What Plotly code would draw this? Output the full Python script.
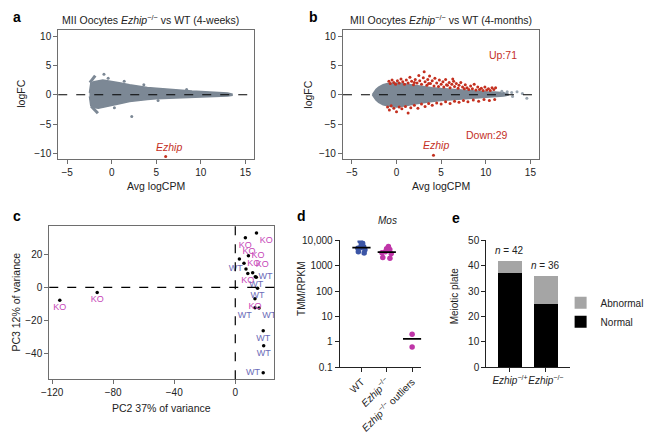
import numpy as np
import plotly.graph_objects as go

FONT = "Liberation Sans, Arial, sans-serif"
W, H = 649, 434

# ---------------- Panel a : MA plot, 4 weeks (gene cloud envelope) ----------------
a_env_x = [-2.5, -2.35, -2.0, -1.5, -1.0, -0.5, 0.0, 1.0, 2.0, 3.0, 4.0, 5.0, 6.0, 7.0, 8.0, 9.0, 10.0, 11.0, 12.0, 13.0, 13.5]
a_env_upper = [0.3, 1.9, 2.2, 2.4, 2.5, 2.4, 2.3, 2.0, 1.7, 1.45, 1.25, 1.1, 0.95, 0.82, 0.72, 0.62, 0.55, 0.47, 0.4, 0.3, 0.1]
a_env_lower = [-0.3, -1.9, -2.2, -2.3, -2.2, -2.0, -1.8, -1.5, -1.15, -0.95, -0.8, -0.7, -0.6, -0.55, -0.5, -0.43, -0.37, -0.3, -0.25, -0.2, -0.1]
a_streak_up_x = [-2.45, -1.85]
a_streak_up_y = [2.05, 3.25]
a_streak_dn_x = [-2.3, -1.55]
a_streak_dn_y = [-1.95, -3.15]
a_extra_x = [-0.87, 2.25, 1.4, 3.6, 0.3, 5.2, 8.4, -0.4]
a_extra_y = [3.5, -3.7, 2.3, 1.7, -2.2, -1.0, 0.9, 2.8]
a_ezhip_x = [6.05]
a_ezhip_y = [-10.55]

# ---------------- Panel b : MA plot, 4 months ----------------
b_env_x = [-2.7, -2.3, -2.0, -1.5, -1.0, -0.5, 0.0, 1.0, 2.0, 3.0, 4.0, 5.0, 6.0, 7.0, 8.0, 9.0, 10.0, 11.0, 12.0, 12.5]
b_env_upper = [0.0, 0.9, 1.3, 1.7, 1.9, 2.0, 2.0, 1.85, 1.6, 1.4, 1.2, 1.05, 0.92, 0.8, 0.7, 0.6, 0.52, 0.45, 0.35, 0.1]
b_env_lower = [0.0, -0.9, -1.3, -1.7, -1.9, -2.05, -2.1, -1.9, -1.6, -1.35, -1.15, -1.0, -0.85, -0.72, -0.6, -0.5, -0.4, -0.3, -0.2, -0.05]
b_up_x = [-0.85, -0.7, -0.5, -0.3, -0.1, 0.1, 0.3, 0.5, 0.7, 0.9, 1.1, 1.3, 1.5, 1.7, 1.9, 2.1, 2.3, 2.5,
          2.6, 2.8, 3.0, 3.1, 3.2, 3.4, 3.5, 3.7, 3.8, 4.0, 4.2, 4.3, 4.5, 4.7, 4.8, 5.0, 5.2, 5.3, 5.5,
          5.7, 5.9, 6.0, 6.2, 6.4, 6.5, 6.7, 6.9, 7.0, 7.2, 7.4, 7.6, 7.7, 7.9, 8.1, 8.3, 8.5, 8.7, 8.9,
          9.1, 9.3, 9.5, 9.7, 9.9, 10.1, 10.3, 10.5, 10.7, 10.9, 11.1, 2.0, 5.6, 6.3, 3.6]
b_up_y = [2.3, 1.9, 2.5, 2.1, 1.8, 2.4, 2.0, 2.7, 2.2, 1.8, 2.5, 2.0, 3.0, 2.3, 1.7, 2.6, 2.0, 3.3,
          2.4, 1.8, 2.9, 3.9, 2.2, 1.6, 2.6, 3.2, 1.9, 2.4, 1.5, 2.8, 2.0, 1.4, 2.5, 1.8, 2.2, 1.3, 2.6,
          1.6, 2.1, 1.2, 1.8, 2.3, 1.4, 1.9, 1.1, 1.6, 2.1, 1.3, 1.0, 1.7, 1.2, 0.9, 1.5, 1.0, 1.8, 0.8,
          1.3, 0.9, 1.1, 0.7, 1.3, 0.8, 1.0, 0.7, 1.2, 0.9, 1.2, 2.1, 1.7, 2.7, 1.9]
b_down_x = [-1.0, -0.8, -0.6, -0.3, 0.0, 0.3, 0.6, 1.0, 1.3, 1.6, 2.0, 2.4, 2.8, 3.2, 3.6, 4.0, 4.5,
            5.0, 5.5, 6.0, 6.5, 7.0, 7.5, 8.0, 8.6, 9.2, 9.8, 10.4, 11.0]
b_down_y = [-2.1, -2.6, -1.9, -2.3, -2.9, -2.1, -2.4, -2.0, -3.1, -2.2, -1.8, -2.3, -1.6, -2.0, -1.5,
            -1.8, -1.4, -1.6, -1.2, -1.5, -1.1, -1.3, -1.0, -1.2, -0.9, -1.1, -0.8, -1.0, -0.8]
b_extra_x = [12.4, 12.9, 13.5, 14.1, 14.6, 13.0, 11.8]
b_extra_y = [0.5, 0.4, 0.5, 0.2, -0.6, -0.3, 0.6]
b_ezhip_x = [4.14]
b_ezhip_y = [-10.3]

# ---------------- Panel c : PCA ----------------
pca_pc2 = [-115, -90.5, 6.6, 13.9, 2.7, 8.6, 5.7, 7.0, 8.2, 11.4, 13.1, 13.8, 14.6, 12.9, 12.9, 15.6, 18.3, 18.6, 18.3]
pca_pc3 = [-7.8, -3.1, 29.7, 32.6, 17.0, 19.0, 14.4, 11.0, 8.3, 8.7, 6.4, 6.0, -0.6, -6.8, -12.2, -12.4, -26.0, -35.0, -51.3]
pca_group = ["KO", "KO", "KO", "KO", "KO", "KO", "KO", "WT", "KO", "KO", "WT", "WT", "WT", "KO", "WT", "WT", "WT", "WT", "WT"]
pca_textpos = ["bottom center", "bottom center", "bottom center", "bottom right", "top right", "middle right",
               "middle right", "middle left", "bottom center", "top right", "middle right", "bottom center",
               "bottom center", "bottom center", "bottom left", "bottom right", "bottom center", "bottom center",
               "middle left"]

# ---------------- Panel d : Mos expression ----------------
mos_categories = ["WT", "<i>Ezhip</i><sup>−/−</sup>", "<i>Ezhip</i><sup>−/−</sup> outliers"]
mos_wt = [9200, 7800, 6500, 5600, 5200, 4900, 4300, 3600, 3200]
mos_ko = [5800, 4700, 4400, 3600, 3300, 3000, 2100, 2000]
mos_out = [2.0, 0.62]

# ---------------- Panel e : Meiotic plate ----------------
e_categories = ["<i>Ezhip</i><sup>−/+</sup>", "<i>Ezhip</i><sup>−/−</sup>"]
e_normal = [37, 25]
e_abnormal = [5, 11]

GRAY = "#7c8895"
RED = "#c4301f"
KO_COL = "#c646b8"
WT_COL = "#6b6bb8"


def dx(l, r):
    return [l / W, r / W]


def dy(t, b):
    return [1 - b / H, 1 - t / H]


fig = go.Figure()


def cloud(ex, eu, el, xa, ya):
    xs = np.concatenate([ex, ex[::-1]])
    ys = np.concatenate([eu, el[::-1]])
    fig.add_trace(go.Scatter(x=xs, y=ys, fill="toself", fillcolor=GRAY, mode="lines",
                             line=dict(color=GRAY, width=1.5), xaxis=xa, yaxis=ya,
                             showlegend=False, hoverinfo="skip"))


# Panel a
cloud(np.array(a_env_x), np.array(a_env_upper), np.array(a_env_lower), "x", "y")
for sx, sy in [(a_streak_up_x, a_streak_up_y), (a_streak_dn_x, a_streak_dn_y)]:
    fig.add_trace(go.Scatter(x=sx, y=sy, mode="lines", line=dict(color=GRAY, width=3),
                             xaxis="x", yaxis="y", showlegend=False))
fig.add_trace(go.Scatter(x=a_extra_x, y=a_extra_y, mode="markers", marker=dict(color=GRAY, size=3),
                         xaxis="x", yaxis="y", showlegend=False))
fig.add_trace(go.Scatter(x=a_ezhip_x, y=a_ezhip_y, mode="markers", marker=dict(color=RED, size=3),
                         xaxis="x", yaxis="y", showlegend=False))

# Panel b
cloud(np.array(b_env_x), np.array(b_env_upper), np.array(b_env_lower), "x2", "y2")
fig.add_trace(go.Scatter(x=b_extra_x, y=b_extra_y, mode="markers", marker=dict(color="#9aa5b0", size=3),
                         xaxis="x2", yaxis="y2", showlegend=False))
fig.add_trace(go.Scatter(x=b_up_x + b_down_x, y=b_up_y + b_down_y, mode="markers",
                         marker=dict(color=RED, size=3), xaxis="x2", yaxis="y2", showlegend=False))
fig.add_trace(go.Scatter(x=b_ezhip_x, y=b_ezhip_y, mode="markers", marker=dict(color=RED, size=3),
                         xaxis="x2", yaxis="y2", showlegend=False))

# Panel c
fig.add_trace(go.Scatter(x=pca_pc2, y=pca_pc3, mode="markers+text", text=pca_group,
                         textposition=pca_textpos,
                         textfont=dict(size=9, color=[KO_COL if g == "KO" else WT_COL for g in pca_group]),
                         marker=dict(color="black", size=3.5), xaxis="x3", yaxis="y3", showlegend=False))

# Panel d
mos_sets = [mos_wt, mos_ko, mos_out]
mos_cols = ["#3b55a6", "#bf35a8", "#bf35a8"]
mos_jitter = [0.75, 0.9, 0.0]
for i, vals in enumerate(mos_sets):
    fig.add_trace(go.Box(x=[i] * len(vals), y=vals, boxpoints="all", jitter=mos_jitter[i], pointpos=0, width=0.55,
                         fillcolor="rgba(0,0,0,0)", line=dict(width=0, color="rgba(0,0,0,0)"),
                         marker=dict(color=mos_cols[i], size=5.5), xaxis="x4", yaxis="y4",
                         showlegend=False, hoverinfo="skip"))
    med = float(np.median(vals))
    fig.add_trace(go.Scatter(x=[i - 0.36, i + 0.36], y=[med, med], mode="lines",
                             line=dict(color="black", width=1.8), xaxis="x4", yaxis="y4",
                             showlegend=False))

# Panel e
fig.add_trace(go.Bar(x=[0, 1], y=e_normal, name="Normal", marker=dict(color="black", line=dict(width=0)),
                     width=0.65, xaxis="x5", yaxis="y5"))
fig.add_trace(go.Bar(x=[0, 1], y=e_abnormal, name="Abnormal", marker=dict(color="#a5a5a5", line=dict(width=0)),
                     width=0.65, xaxis="x5", yaxis="y5"))

tickfont = dict(size=10, color="#222", family=FONT)
framed = dict(showline=True, mirror=True, linecolor="#6e6e6e", linewidth=1, ticks="outside", ticklen=4,
              tickcolor="#6e6e6e", showgrid=False, zeroline=False, tickfont=tickfont)
open_ax = dict(showline=True, mirror=False, linecolor="#222", linewidth=1, ticks="outside", ticklen=4,
               tickcolor="#222", showgrid=False, zeroline=False, tickfont=tickfont)

fig.update_layout(
    width=W, height=H, margin=dict(l=0, r=0, t=0, b=0),
    paper_bgcolor="white", plot_bgcolor="white",
    font=dict(family=FONT, size=10, color="#222"),
    barmode="stack",
    xaxis=dict(domain=dx(52, 255), range=[-6, 16], tickvals=[-5, 0, 5, 10, 15], anchor="y", **framed),
    yaxis=dict(domain=dy(26, 159), range=[-11, 11], tickvals=[-10, -5, 0, 5, 10], anchor="x", **framed),
    xaxis2=dict(domain=dx(346.7, 550), range=[-6, 16], tickvals=[-5, 0, 5, 10, 15], anchor="y2", **framed),
    yaxis2=dict(domain=dy(26, 159), range=[-11, 11], tickvals=[-10, -5, 0, 5, 10], anchor="x2", **framed),
    xaxis3=dict(domain=dx(42.7, 275.7), range=[-121.9, 25.6], tickvals=[-120, -80, -40, 0], anchor="y3", **framed),
    yaxis3=dict(domain=dy(227.7, 385.7), range=[-55.1, 36.9], tickvals=[-40, -20, 0, 20], anchor="x3", **framed),
    xaxis4=dict(domain=dx(343.3, 428), range=[-0.86, 2.37], tickvals=[0, 1, 2], ticktext=mos_categories,
                tickangle=-45, anchor="y4", **open_ax),
    yaxis4=dict(domain=dy(242.7, 373.3), type="log", range=[-1, 4],
                tickvals=[0.1, 1, 10, 100, 1000, 10000], ticktext=["0.1", "1", "10", "100", "1000", "10,000"],
                anchor="x4", **open_ax),
    xaxis5=dict(domain=dx(495, 581.7), range=[-0.66, 1.67], tickvals=[0, 1], ticktext=e_categories,
                tickangle=0, anchor="y5", **open_ax),
    yaxis5=dict(domain=dy(242.7, 373.3), range=[0, 50], tickvals=[0, 10, 20, 30, 40, 50], anchor="x5", **open_ax),
    legend=dict(x=572 / W, y=1 - 292 / H, xanchor="left", yanchor="top", traceorder="reversed",
                font=dict(size=10, color="#222"), bgcolor="rgba(0,0,0,0)", itemwidth=30,
                tracegroupgap=0),
)

# dashed zero lines
for xa, ya in [("x", "y"), ("x2", "y2"), ("x3", "y3")]:
    fig.add_shape(type="line", xref=f"{xa} domain", yref=ya, x0=0, x1=1, y0=0, y1=0,
                  line=dict(color="black", width=1.2, dash="dash"))
fig.add_shape(type="line", xref="x3", yref="y3 domain", x0=0, x1=0, y0=0, y1=1,
              line=dict(color="black", width=1.2, dash="dash"))

ann = []


def pa(text, px, py, size=10.5, angle=0, **kw):
    ann.append(dict(text=text, x=px / W, y=1 - py / H, xref="paper", yref="paper", showarrow=False,
                    font=dict(size=size, family=FONT, color=kw.pop("color", "#222")), textangle=angle,
                    xanchor=kw.pop("xanchor", "center"), yanchor=kw.pop("yanchor", "middle"), **kw))


# panel letters
for letter, px, py in [("a", 3, 12), ("b", 309, 12), ("c", 3, 217), ("d", 297, 218), ("e", 457, 220)]:
    pa(f"<b>{letter}</b>", px, py, size=14, xanchor="left", color="black")

pa("MII Oocytes <i>Ezhip</i><sup>−/−</sup> vs WT (4-weeks)", 147, 15, size=10.5)
pa("MII Oocytes <i>Ezhip</i><sup>−/−</sup> vs WT (4-months)", 448, 15, size=10.5)
pa("logFC", 14, 92, angle=-90)
pa("logFC", 311, 92, angle=-90)
pa("Avg logCPM", 153.5, 187)
pa("Avg logCPM", 448.3, 187)
pa("PC3 12% of variance", 8, 306, angle=-90)
pa("PC2 37% of variance", 159, 415)
pa("TMM/RPKM", 303, 293, angle=-90, size=10)
pa("<i>Mos</i>", 392.7, 222, size=10)
pa("Meiotic plate", 462, 300, angle=-90, size=10)

# Ezhip labels anchored on the Ezhip points
for xa, ya, ex, ey in [("x", "y", a_ezhip_x[0], a_ezhip_y[0]), ("x2", "y2", b_ezhip_x[0], b_ezhip_y[0])]:
    ann.append(dict(text="<i>Ezhip</i>", x=ex, y=ey, xref=xa, yref=ya, showarrow=False, xshift=3,
                    yshift=2, yanchor="bottom", font=dict(size=10.5, family=FONT, color=RED)))

ann.append(dict(text=f"Up:{len(b_up_x)}", x=0.897, y=0.87, xref="x2 domain", yref="y2 domain",
                showarrow=False, font=dict(size=10.5, family=FONT, color=RED)))
ann.append(dict(text=f"Down:{len(b_down_x)}", x=0.849, y=0.1226, xref="x2 domain", yref="y2 domain",
                showarrow=False, font=dict(size=10.5, family=FONT, color=RED)))

for i in range(len(e_normal)):
    tot = e_normal[i] + e_abnormal[i]
    ann.append(dict(text=f"<i>n</i> = {tot}", x=i, y=tot, xref="x5", yref="y5", showarrow=False,
                    yanchor="bottom", yshift=3, font=dict(size=10, family=FONT, color="#222")))

fig.update_layout(annotations=ann)
fig.write_html("out.html")
